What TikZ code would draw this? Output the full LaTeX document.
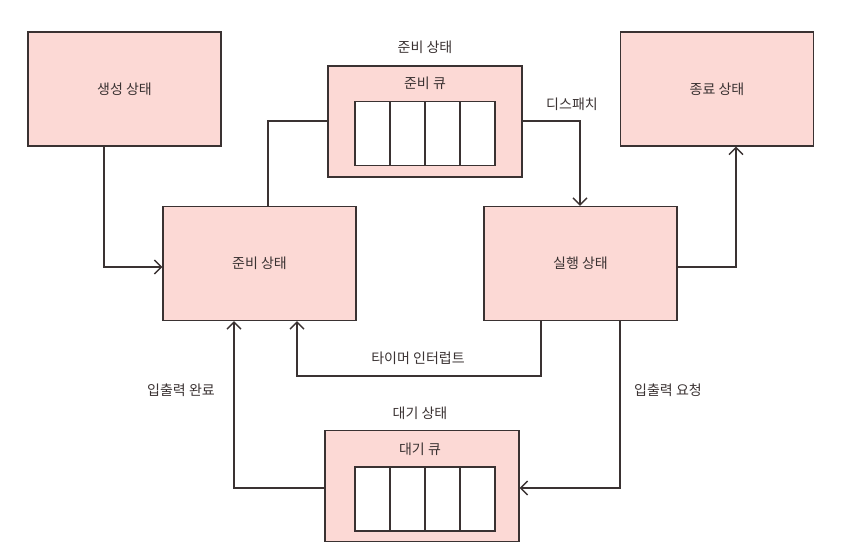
\documentclass[tikz,border=0pt]{standalone}
\usepackage{fontspec}
\setmainfont{Noto Sans CJK KR}
\usetikzlibrary{arrows.meta}
\definecolor{boxfill}{HTML}{FCD9D5}
\definecolor{ink}{HTML}{3A3232}
\tikzset{
  statebox/.style={draw=ink, line width=1.4pt, fill=boxfill, minimum width=193pt, minimum height=114pt, inner sep=0pt, font=\fontsize{14}{16}\selectfont, text=ink},
  qbox/.style={draw=ink, line width=1.4pt, fill=boxfill, minimum width=194pt, minimum height=111pt, inner sep=0pt},
  cell/.style={draw=ink, line width=1.1pt, fill=white, minimum width=35pt, minimum height=64pt, inner sep=0pt},
  lbl/.style={font=\fontsize{14}{16}\selectfont, text=ink, inner sep=1pt},
  conn/.style={draw=ink, line width=1.3pt},
  arr/.style={conn, -{Straight Barb[length=7pt, width=14pt, line width=1.3pt]}}
}
\begin{document}
\begin{tikzpicture}[x=1pt, y=-1pt]
\useasboundingbox (0,0) rectangle (852,559);
% state boxes
\node[statebox] (new) at (124.5,89) {생성 상태};
\node[statebox] (term) at (717,89) {종료 상태};
\node[statebox] (ready) at (259.5,263.5) {준비 상태};
\node[statebox] (run) at (580.5,263.5) {실행 상태};
% ready queue
\node[qbox] (rq) at (425,121.5) {};
\node[lbl] (rqtitle) at (425,47) {준비 상태};
\node[lbl] (rqname) at (425,83) {준비 큐};
\node[cell] (rc1) at (372.5,133.5) {};
\node[cell] (rc2) at (407.5,133.5) {};
\node[cell] (rc3) at (442.5,133.5) {};
\node[cell] (rc4) at (477.5,133.5) {};
% waiting queue
\node[qbox] (wq) at (422,486) {};
\node[lbl] (wqtitle) at (420,413) {대기 상태};
\node[lbl] (wqname) at (420,449) {대기 큐};
\node[cell] (wc1) at (372.5,499) {};
\node[cell] (wc2) at (407.5,499) {};
\node[cell] (wc3) at (442.5,499) {};
\node[cell] (wc4) at (477.5,499) {};
% connectors
\draw[arr] (new.south -| 104,0) |- (ready.west |- 0,267);
\draw[conn] (ready.north -| 268,0) |- (rq.west |- 0,121);
\draw[arr] (rq.east |- 0,121) -| (run.north -| 580,0);
\node[lbl] (dispatch) at (572,104) {디스패치};
\draw[arr] (run.east |- 0,267) -| (term.south -| 736,0);
\draw[arr] (run.south -| 541,0) |- (418,376) -| (ready.south -| 297,0);
\node[lbl] (timer) at (418,358) {타이머 인터럽트};
\draw[arr] (run.south -| 620,0) |- (wq.east |- 0,488);
\node[lbl] (ioreq) at (668,390) {입출력 요청};
\draw[arr] (wq.west |- 0,488) -| (ready.south -| 234,0);
\node[lbl] (iodone) at (181,390) {입출력 완료};
\end{tikzpicture}
\end{document}
